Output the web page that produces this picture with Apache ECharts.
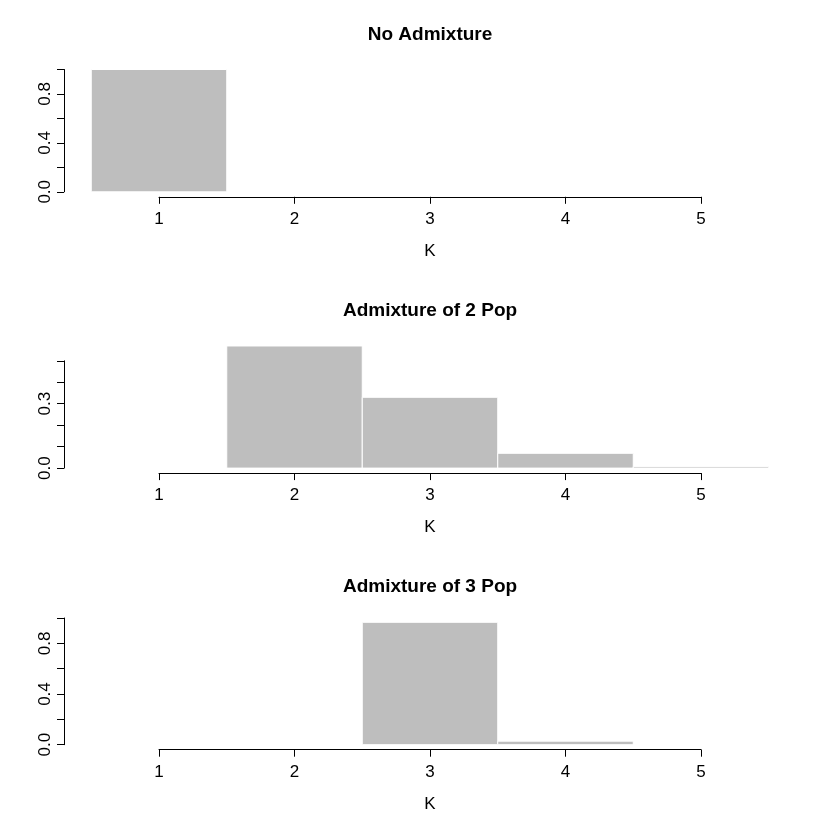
<!DOCTYPE html>
<html>
<head>
<meta charset="utf-8">
<script src="https://cdn.jsdelivr.net/npm/echarts@6/dist/echarts.min.js"></script>
<style>
  html, body { margin: 0; padding: 0; background: #fff; }
  #main { width: 830px; height: 830px; }
</style>
</head>
<body>
<div id="main"></div>
<script>
var kValues = [1, 2, 3, 4, 5];
var noAdmix = [1.0, 0, 0, 0, 0];
var admix2 = [0, 0.569, 0.330, 0.069, 0.007];
var admix3 = [0, 0, 0.966, 0.028, 0];

var titles = ['No Admixture', 'Admixture of 2 Pop', 'Admixture of 3 Pop'];
var yLabels1 = ['0.0', '0.4', '0.8'];
var yLabels2 = ['0.0', '0.3'];
var yLabels3 = ['0.0', '0.4', '0.8'];

var chart = echarts.init(document.getElementById('main'), null, { width: 830, height: 830 });
var font = "'Liberation Sans', Arial, Helvetica, sans-serif";

// grid spans from K=1 to K=5 and from y=0 to the top tick
var grids = [
  { left: 159, width: 542, top: 69.5, height: 122.3 },
  { left: 159, width: 542, top: 360.8, height: 107.3 },
  { left: 159, width: 542, top: 618, height: 126.7 }
];
var yMax = [1.0, 0.5, 1.0];
var yStep = [0.2, 0.1, 0.2];
var yLabelSets = [yLabels1, yLabels2, yLabels3];
var seriesData = [noAdmix, admix2, admix3];

function renderBar(params, api) {
  var k = api.value(0), v = api.value(1);
  var p0 = api.coord([k - 0.5, 0]);
  var p1 = api.coord([k + 0.5, v]);
  return {
    type: 'rect',
    shape: { x: p0[0], y: p1[1], width: p1[0] - p0[0], height: p0[1] - p1[1] },
    style: { fill: '#bebebe', stroke: '#ffffff', lineWidth: 1 }
  };
}

var option = {
  animation: false,
  backgroundColor: '#fff',
  title: [],
  grid: [],
  xAxis: [],
  yAxis: [],
  series: []
};

for (var i = 0; i < 3; i++) {
  option.title.push({
    text: titles[i],
    left: 430,
    top: 25 + i * 276.3,
    textAlign: 'center',
    padding: 0,
    textStyle: { fontFamily: font, fontSize: 19, fontWeight: 'bold', color: '#000' }
  });
  option.grid.push(grids[i]);
  option.xAxis.push({
    type: 'value',
    gridIndex: i,
    min: 1,
    max: 5,
    interval: 1,
    offset: 5,
    name: 'K',
    nameLocation: 'middle',
    nameGap: 46,
    nameTextStyle: { fontFamily: font, fontSize: 17, color: '#000' },
    axisLine: { show: true, onZero: false, lineStyle: { color: '#000', width: 1 } },
    axisTick: { show: true, length: 7, lineStyle: { color: '#000', width: 1 } },
    axisLabel: { fontFamily: font, fontSize: 17, color: '#000', margin: 14 },
    splitLine: { show: false }
  });
  (function (labels) {
    option.yAxis.push({
      type: 'value',
      gridIndex: i,
      min: 0,
      max: yMax[i],
      interval: yStep[i],
      offset: 95,
      axisLine: { show: true, lineStyle: { color: '#000', width: 1 } },
      axisTick: { show: true, length: 7, lineStyle: { color: '#000', width: 1 } },
      axisLabel: {
        fontFamily: font, fontSize: 17, color: '#000', rotate: 90, margin: 10,
        formatter: function (v) {
          var s = v.toFixed(1);
          return labels.indexOf(s) >= 0 ? s : '';
        }
      },
      splitLine: { show: false }
    });
  })(yLabelSets[i]);
  option.series.push({
    type: 'custom',
    xAxisIndex: i,
    yAxisIndex: i,
    clip: false,
    renderItem: renderBar,
    data: kValues.map(function (k, j) { return [k, seriesData[i][j]]; })
  });
}

chart.setOption(option);
</script>
</body>
</html>
